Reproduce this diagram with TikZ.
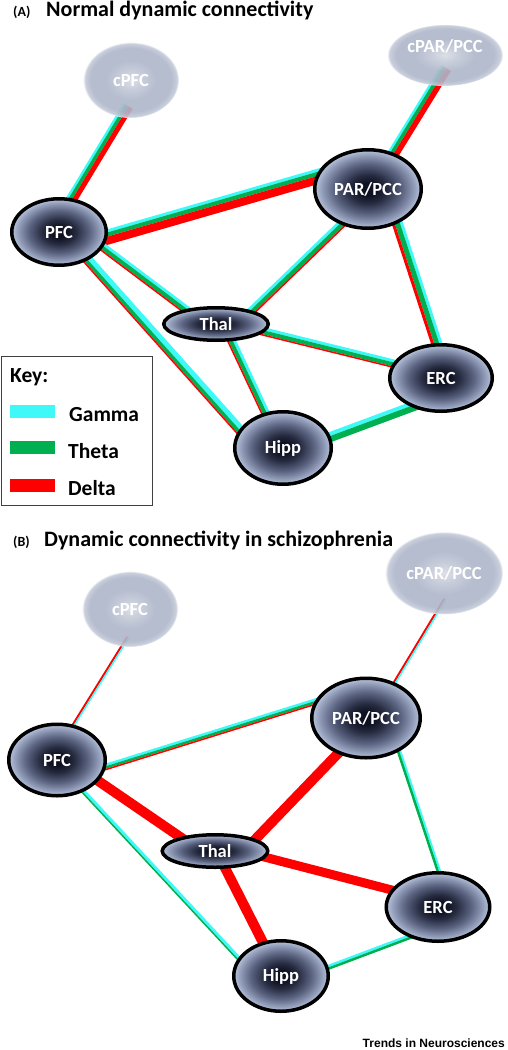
\documentclass[tikz,border=0pt]{standalone}
\usepackage{fontspec}
\setmainfont{Carlito}
\newfontfamily\tinfont{Liberation Sans}
\usetikzlibrary{calc,shapes.geometric}
\definecolor{cy}{HTML}{3FF8F8}
\definecolor{gr}{HTML}{00B050}
\definecolor{rd}{HTML}{FF0000}
\definecolor{nda}{HTML}{0E1120}
\definecolor{ndb}{HTML}{262B40}
\definecolor{ndc}{HTML}{5A6380}
\definecolor{ndd}{HTML}{96A1BD}
\definecolor{nde}{HTML}{BAC5DE}
\definecolor{gha}{HTML}{D8DBE4}
\definecolor{ghb}{HTML}{C2C8D6}
\definecolor{ghc}{HTML}{AEB6CA}
\definecolor{ghd}{HTML}{C4CAD8}
\pgfdeclarelayer{bg}
\pgfsetlayers{bg,main}
\pgfdeclareradialshading{brainshade}{\pgfpointorigin}{color(0bp)=(nda); color(4bp)=(nda); color(9bp)=(ndb); color(16bp)=(ndc); color(22bp)=(ndd); color(25bp)=(nde); color(50bp)=(nde)}
\pgfdeclareradialshading{ghostshade}{\pgfpointorigin}{color(0bp)=(gha); color(6bp)=(ghb); color(13bp)=(ghc); color(21bp)=(ghc); color(24bp)=(ghd); color(25bp)=(white); color(50bp)=(white)}
\newcommand\bands[4]{%
  \pgfmathsetmacro\bandpos{#3/2}%
  \global\let\bandcur\bandpos
  \foreach \bc/\bw in {#4}{%
    \pgfmathsetmacro\bandoff{\bandcur-\bw/2}%
    \draw[draw=\bc, line width=\bw pt] ($(#1)!\bandoff pt!90:(#2)$) -- ($(#2)!\bandoff pt!-90:(#1)$);
    \pgfmathsetmacro\bandnext{\bandcur-\bw}%
    \global\let\bandcur\bandnext
  }%
}
\tikzset{
  region/.style={ellipse, draw=black, line width=3.5pt, shading=brainshade, inner sep=0pt,
    text=white, font=\bfseries\fontsize{18.5}{18.5}\selectfont},
  ghost/.style={ellipse, shading=ghostshade, fill opacity=0.9, text opacity=1, inner sep=0pt,
    text=white, font=\bfseries\fontsize{18.5}{18.5}\selectfont},
  title/.style={anchor=base west, inner sep=0pt, font=\bfseries\fontsize{22}{22}\selectfont},
  panel/.style={anchor=base west, inner sep=0pt, font=\bfseries\fontsize{14}{14}\selectfont},
  keytext/.style={anchor=base west, inner sep=0pt, font=\bfseries\fontsize{21.5}{21.5}\selectfont},
  swatch/.style={anchor=north west, minimum width=45pt, minimum height=13pt, inner sep=0pt}
}
\begin{document}
\begin{tikzpicture}[x=1pt,y=-1pt]
\useasboundingbox (0,0) rectangle (507,1050);
% ---------- Panel A ----------
\node[panel] (labA) at (13,16) {(A)};
\node[title] (titleA) at (46,16) {Normal dynamic connectivity};
\node[ghost, minimum width=96pt, minimum height=76pt] (acPFC) at (131,80) {cPFC};
\node[ghost, minimum width=116pt, minimum height=62pt, text depth=18pt] (acPAR) at (445,55) {cPAR/PCC};
\node[region, minimum width=94.5pt, minimum height=66.5pt] (aPFC) at (59,232) {PFC};
\node[region, minimum width=106.5pt, minimum height=78.5pt] (aPAR) at (368,189) {PAR/PCC};
\node[region, minimum width=104.5pt, minimum height=32.5pt] (aThal) at (216,324) {Thal};
\node[region, minimum width=102.5pt, minimum height=66.5pt] (aERC) at (441,378) {ERC};
\node[region, minimum width=96.5pt, minimum height=72.5pt] (aHipp) at (283,448) {Hipp};
% edge end points
\coordinate (a1s) at ($(aPFC)+(-3,-7)$);   \coordinate (a1e) at ($(acPFC)+(-3,26)$);
\coordinate (a2s) at ($(aPAR)+(6,-4)$);    \coordinate (a2e) at ($(acPAR)+(1,13)$);
\coordinate (a3s) at ($(aPFC)+(21,13)$);   \coordinate (a3e) at ($(aPAR)+(-28,-19)$);
\coordinate (a4s) at ($(aPFC)+(21,-2)$);   \coordinate (a4e) at ($(aThal)+(-11,0)$);
\coordinate (a5s) at ($(aPFC)+(11,8)$);    \coordinate (a5e) at ($(aHipp)+(-28,-1)$);
\coordinate (a6s) at ($(aThal)+(21,1)$);   \coordinate (a6e) at ($(aPAR)+(-13,22)$);
\coordinate (a7s) at ($(aPAR)+(25,21)$);   \coordinate (a7e) at ($(aERC)+(7,0)$);
\coordinate (a8s) at ($(aThal)+(29,3)$);   \coordinate (a8e) at ($(aERC)+(-26,-9)$);
\coordinate (a9s) at ($(aThal)+(9,3)$);    \coordinate (a9e) at ($(aHipp)+(-3,-4)$);
\coordinate (a10s) at ($(aHipp)+(7,4)$);   \coordinate (a10e) at ($(aERC)+(-11,22)$);
\begin{pgfonlayer}{bg}
\bands{a1s}{a1e}{11}{cy/2.5,gr/3.5,rd/5}
\bands{a2s}{a2e}{11.5}{cy/2.5,gr/3.5,rd/5.5}
\bands{a3s}{a3e}{15}{cy/3,gr/4,rd/8}
\bands{a4s}{a4e}{8.5}{cy/3,gr/4,rd/1.5}
\bands{a5s}{a5e}{10}{cy/5,gr/3.5,rd/1.5}
\bands{a6s}{a6e}{8.5}{cy/3,gr/4,rd/1.5}
\bands{a7s}{a7e}{11}{cy/3,gr/5,rd/3}
\bands{a8s}{a8e}{8.5}{cy/3,gr/4,rd/1.5}
\bands{a9s}{a9e}{8.5}{cy/3,gr/4,rd/1.5}
\bands{a10s}{a10e}{10}{cy/4,gr/6}
\end{pgfonlayer}
% key
\node[draw=black!75, line width=1pt, minimum width=151pt, minimum height=149pt, anchor=north west, inner sep=0pt] (key) at (1,356) {};
\node[keytext] (keyt) at (10,382) {Key:};
\node[swatch, fill=cy] (swg) at (10,405) {};
\node[swatch, fill=gr] (swt) at (10,441) {};
\node[swatch, fill=rd] (swd) at (10,479) {};
\node[keytext] (kg) at (69,421) {Gamma};
\node[keytext] (kt) at (68,458) {Theta};
\node[keytext] (kd) at (68,495) {Delta};
% ---------- Panel B ----------
\node[panel] (labB) at (13,546) {(B)};
\node[title] (titleB) at (44,546) {Dynamic connectivity in schizophrenia};
\node[ghost, minimum width=96pt, minimum height=76pt] (bcPFC) at (130,609) {cPFC};
\node[ghost, minimum width=118pt, minimum height=83pt] (bcPAR) at (444,573) {cPAR/PCC};
\node[region, minimum width=96.5pt, minimum height=71.5pt] (bPFC) at (57,760) {PFC};
\node[region, minimum width=108.5pt, minimum height=79.5pt] (bPAR) at (366,718) {PAR/PCC};
\node[region, minimum width=105.5pt, minimum height=32.5pt] (bThal) at (215,851) {Thal};
\node[region, minimum width=103.5pt, minimum height=68.5pt] (bERC) at (438,907) {ERC};
\node[region, minimum width=94.5pt, minimum height=70.5pt] (bHipp) at (281,976) {Hipp};
\coordinate (b1s) at ($(bPFC)+(4,-15)$);   \coordinate (b1e) at ($(bcPFC)+(-2,28)$);
\coordinate (b2s) at ($(bPAR)+(15,-13)$);  \coordinate (b2e) at ($(bcPAR)+(1,26)$);
\coordinate (b3s) at ($(bPFC)+(23,15)$);   \coordinate (b3e) at ($(bPAR)+(-26,-24)$);
\coordinate (b4s) at ($(bPFC)+(18,5)$);    \coordinate (b4e) at ($(bThal)+(-10,3)$);
\coordinate (b5s) at ($(bPFC)+(13,17)$);   \coordinate (b5e) at ($(bHipp)+(-26,0)$);
\coordinate (b6s) at ($(bThal)+(30,-1)$);  \coordinate (b6e) at ($(bPAR)+(-16,23)$);
\coordinate (b7s) at ($(bPAR)+(26,12)$);   \coordinate (b7e) at ($(bERC)+(12,-2)$);
\coordinate (b8s) at ($(bThal)+(30,1)$);   \coordinate (b8e) at ($(bERC)+(-23,-11)$);
\coordinate (b9s) at ($(bThal)+(5,7)$);    \coordinate (b9e) at ($(bHipp)+(-3,-4)$);
\coordinate (b10s) at ($(bHipp)+(19,2)$);  \coordinate (b10e) at ($(bERC)+(-13,24)$);
\begin{pgfonlayer}{bg}
\bands{b1s}{b1e}{3.5}{rd/2,cy/1.5}
\bands{b2s}{b2e}{3.5}{rd/2,cy/1.5}
\bands{b3s}{b3e}{6.5}{cy/2.5,gr/2.5,rd/1.5}
\bands{b4s}{b4e}{10}{rd/10}
\bands{b5s}{b5e}{4.5}{cy/3,gr/1.5}
\bands{b6s}{b6e}{10}{rd/10}
\bands{b7s}{b7e}{4.5}{cy/2,gr/2.5}
\bands{b8s}{b8e}{9}{rd/9}
\bands{b9s}{b9e}{10}{rd/10}
\bands{b10s}{b10e}{5}{cy/2.5,gr/2.5}
\end{pgfonlayer}
\node[anchor=base east, inner sep=0pt, font=\tinfont\bfseries\fontsize{12}{12}\selectfont] (credit) at (505,1047) {Trends in Neurosciences};
\end{tikzpicture}
\end{document}
